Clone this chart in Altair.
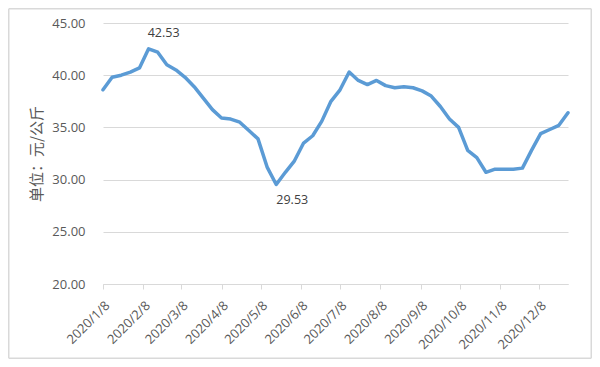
import altair as alt
import pandas as pd

# Weekly prices (元/公斤), every Wednesday from 2020/1/8
start_date = "2020-01-08"
prices = [
    38.6, 39.8, 40.0, 40.3, 40.7, 42.53, 42.2, 41.0, 40.5, 39.8,
    38.9, 37.8, 36.7, 35.9, 35.8, 35.5, 34.7, 33.9, 31.2, 29.53,
    30.7, 31.8, 33.5, 34.2, 35.6, 37.5, 38.6, 40.3, 39.5, 39.1,
    39.5, 39.0, 38.8, 38.9, 38.8, 38.5, 38.0, 37.0, 35.8, 35.0,
    32.8, 32.1, 30.7, 31.0, 31.0, 31.0, 31.1, 32.8, 34.4, 34.8,
    35.2, 36.4,
]
tick_labels = ["2020/1/8", "2020/2/8", "2020/3/8", "2020/4/8", "2020/5/8", "2020/6/8",
               "2020/7/8", "2020/8/8", "2020/9/8", "2020/10/8", "2020/11/8", "2020/12/8"]
y_ticks = [20, 25, 30, 35, 40, 45]
annotated = [42.53, 29.53]

dates = pd.date_range(start_date, periods=len(prices), freq="7D")
df = pd.DataFrame({"date": dates.strftime("%Y-%m-%dT00:00:00"), "price": prices})

tick_values = []
for t in tick_labels:
    yy, mm, dd = t.split("/")
    tick_values.append(alt.DateTime(year=int(yy), month=int(mm), date=int(dd)))

grey_text = "#595959"
grid_col = "#d9d9d9"
latin = "Open Sans"

x_enc = alt.X("date:T",
              axis=alt.Axis(values=tick_values, format="%Y/%-m/%-d", title=None,
                            labelAngle=-45, labelColor=grey_text, labelFont=latin,
                            labelFontSize=13, grid=False, domainColor=grid_col,
                            tickColor=grid_col, tickSize=5, labelPadding=10,
                            labelOverlap=False))
y_enc = alt.Y("price:Q",
              scale=alt.Scale(domain=[20, 45], nice=False, zero=False),
              axis=alt.Axis(values=y_ticks, format=".2f", title="单位：元/公斤",
                            titleFont="Noto Sans CJK SC", titleFontSize=15,
                            titleFontWeight="normal", titleColor=grey_text,
                            titlePadding=7, labelColor=grey_text, labelFont=latin,
                            labelFontSize=13, labelPadding=18, domain=False,
                            ticks=False, gridColor=grid_col, gridWidth=1))

one = pd.DataFrame({"a": [0]})
bx0, bx1, by0, by1 = -94.25, 488.25, -14.25, 335.25
frame = [
    alt.Chart(one).mark_rule(color=grid_col, strokeWidth=1.5).encode(
        x=alt.value(bx0), x2=alt.value(bx1), y=alt.value(by0)),
    alt.Chart(one).mark_rule(color=grid_col, strokeWidth=1.5).encode(
        x=alt.value(bx0), x2=alt.value(bx1), y=alt.value(by1)),
    alt.Chart(one).mark_rule(color=grid_col, strokeWidth=1.5).encode(
        x=alt.value(bx0), y=alt.value(by0), y2=alt.value(by1)),
    alt.Chart(one).mark_rule(color=grid_col, strokeWidth=1.5).encode(
        x=alt.value(bx1), y=alt.value(by0), y2=alt.value(by1)),
]

line = alt.Chart(df).mark_line(color="#5b9bd5", strokeWidth=3.5,
                               strokeJoin="round", strokeCap="round").encode(x=x_enc, y=y_enc)

labels_df = df[df["price"].isin(annotated)].copy()
labels_df["txt"] = labels_df["price"].map(lambda v: f"{v:.2f}")

peak = alt.Chart(labels_df[labels_df["price"] == annotated[0]]).mark_text(
    dx=15, dy=-16, font=latin, fontSize=12.5, color="#404040"
).encode(x="date:T", y="price:Q", text="txt:N")
trough = alt.Chart(labels_df[labels_df["price"] == annotated[1]]).mark_text(
    dx=16, dy=15, font=latin, fontSize=12.5, color="#404040"
).encode(x="date:T", y="price:Q", text="txt:N")

chart = alt.layer(line, peak, trough, *frame).properties(
    width=465, height=261,
    autosize=alt.AutoSizeParams(type="none"),
    padding={"left": 95, "top": 15, "right": 24, "bottom": 75},
    background="white",
).configure_view(strokeWidth=0)

chart.save("out.html", embed_options={"renderer": "svg", "actions": False})
